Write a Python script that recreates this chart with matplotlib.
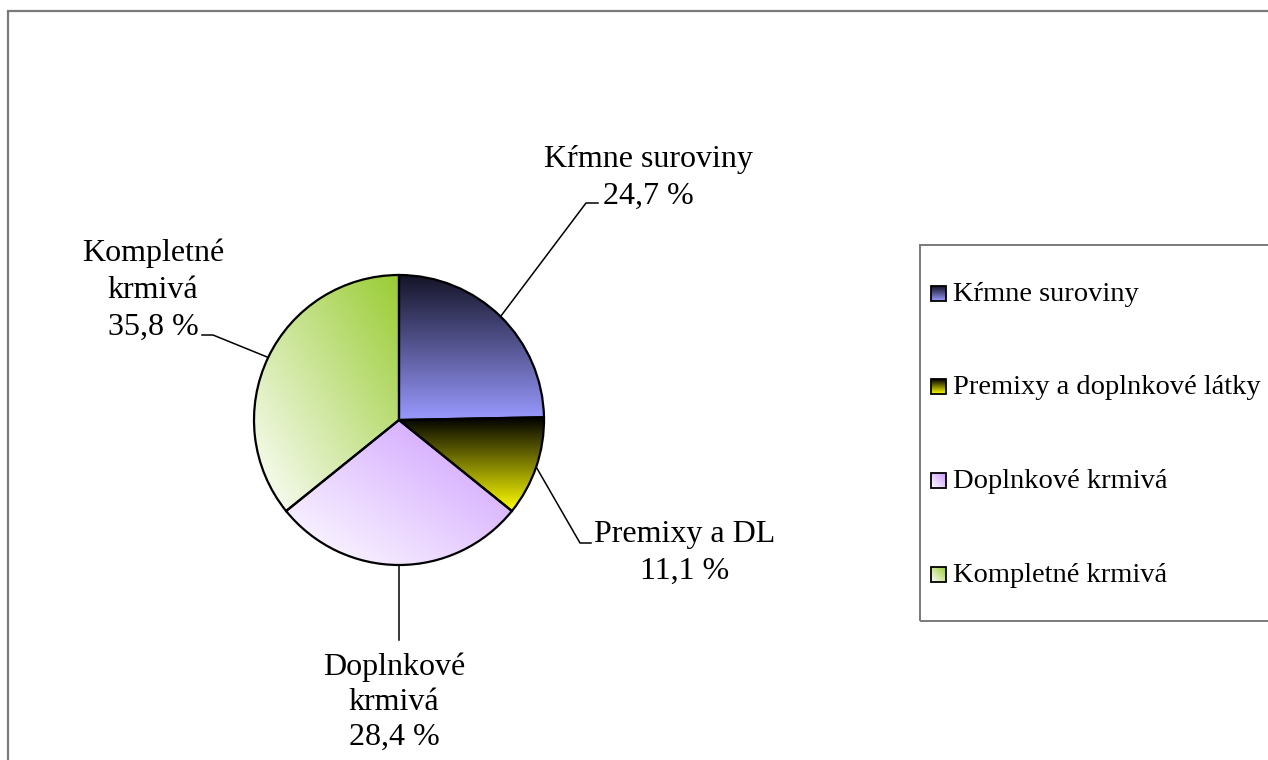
import numpy as np
import matplotlib
matplotlib.use("Agg")
import matplotlib.pyplot as plt
from matplotlib.patches import Rectangle

# Data
pie_names = [['Kŕmne suroviny'], ['Premixy a DL'], ['Doplnkové', 'krmivá'], ['Kompletné', 'krmivá']]
legend_names = ['Kŕmne suroviny', 'Premixy a doplnkové látky', 'Doplnkové krmivá', 'Kompletné krmivá']
shares = [24.7, 11.1, 28.4, 35.8]

# gradient fills: (direction, start colour, end colour)
fills = [
    ('v', '#141428', '#9999ff'),
    ('v', '#000000', '#ffff00'),
    ('d', '#ffffff', '#cc99ff'),
    ('d', '#ffffff', '#99cc33'),
]

W, H = 1268, 760
FONT = 'Liberation Serif'


def py(y):
    """pixel row (from top) -> data y."""
    return H - y


def gradient(kind, c0, c1, n=200):
    c0 = np.array(matplotlib.colors.to_rgb(c0))
    c1 = np.array(matplotlib.colors.to_rgb(c1))
    xx, yy = np.meshgrid(np.linspace(0, 1, n), np.linspace(0, 1, n))
    if kind == 'v':
        t = yy  # row 0 = top
    else:
        t = (xx + (1 - yy)) / 2  # bottom-left -> top-right
    return c0 * (1 - t[..., None]) + c1 * t[..., None]


fig = plt.figure(figsize=(W / 100, H / 100), dpi=100)
ax = fig.add_axes([0, 0, 1, 1])

cx, cy, r = 399, py(420), 145
wedges, _ = ax.pie(shares, startangle=90, counterclock=False, center=(cx, cy), radius=r,
                   wedgeprops=dict(facecolor='none', edgecolor='black', linewidth=1.6))

for w, (kind, c0, c1) in zip(wedges, fills):
    w.set_zorder(3)
    ext = w.get_path().get_extents()
    ax.imshow(gradient(kind, c0, c1), extent=(ext.x0, ext.x1, ext.y0, ext.y1),
              origin='upper', aspect='auto', interpolation='bilinear',
              clip_path=w, zorder=2)

# leader lines + labels
elbows = [
    [(586, 203), (598, 203)],
    [(580, 543), (591, 543)],
    [(399, 640)],
    [(213, 335), (202, 335)],
]
label_pos = [(648, 167), (685, 542), (394, 675), (153, 261)]
line_step = [37, 37, 35, 37]

for w, name, v, elb, (tx, ty), step in zip(wedges, pie_names, shares, elbows, label_pos, line_step):
    mid = np.deg2rad((w.theta1 + w.theta2) / 2)
    pts = [(cx + r * np.cos(mid), cy + r * np.sin(mid))] + [(x, py(y)) for x, y in elb]
    xs, ys = zip(*pts)
    ax.plot(xs, ys, color='black', linewidth=1.1, zorder=4)
    pct = f"{v:.1f} %".replace('.', ',')
    for i, line in enumerate(name + [pct]):
        ax.text(tx, py(ty + i * step), line, ha='center', va='baseline',
                fontsize=23, family=FONT, zorder=5)

# outer frame
ax.add_patch(Rectangle((8, -50), W + 100, py(11) + 50, fill=False,
                       edgecolor='#7a7a7a', linewidth=1.6, zorder=1))

# legend box
ax.add_patch(Rectangle((920, py(621)), 500, 621 - 245, fill=False,
                       edgecolor='#7a7a7a', linewidth=1.4, zorder=1))
legend_base = [301, 394, 488, 582]
for name, (kind, c0, c1), yb in zip(legend_names, fills, legend_base):
    x0, y0, s = 931, py(yb), 15
    box = Rectangle((x0, y0), s, s, facecolor='none', edgecolor='black', linewidth=1.3, zorder=4)
    ax.add_patch(box)
    ax.imshow(gradient(kind, c0, c1, 40), extent=(x0, x0 + s, y0, y0 + s),
              origin='upper', aspect='auto', interpolation='bilinear', zorder=3)
    ax.text(953, py(yb), name, ha='left', va='baseline', fontsize=20.5, family=FONT, zorder=5)

ax.set_xlim(0, W)
ax.set_ylim(0, H)
ax.set_aspect('auto')
ax.axis('off')

fig.savefig('out.png', dpi=100, facecolor='white')
